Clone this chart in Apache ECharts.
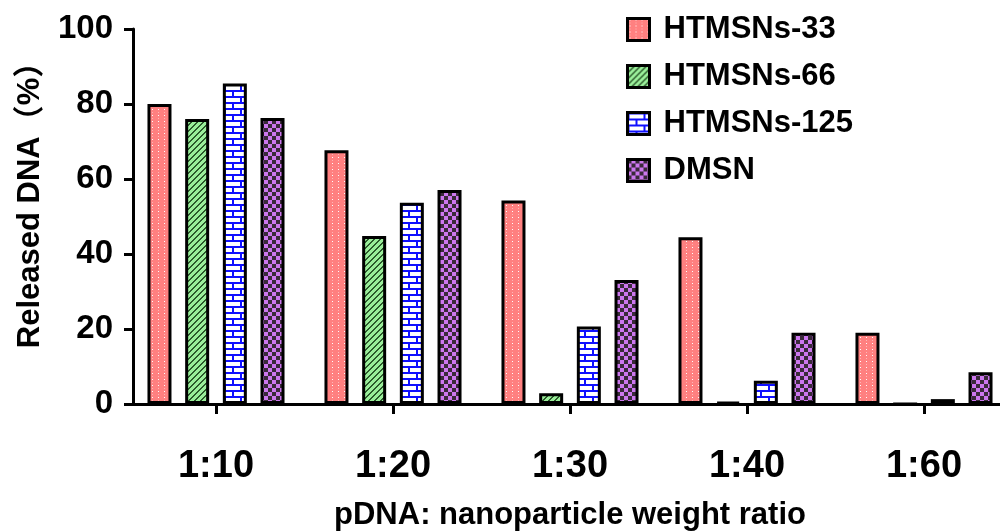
<!DOCTYPE html>
<html>
<head>
<meta charset="utf-8">
<script src="https://cdn.jsdelivr.net/npm/echarts@6/dist/echarts.min.js"></script>
<style>
html,body{margin:0;padding:0;background:#fff;}
#chart{width:1000px;height:532px;}
</style>
</head>
<body>
<div id="chart"></div>
<script>
// ---- data ----
const categories = ['1:10', '1:20', '1:30', '1:40', '1:60'];
const seriesNames = ['HTMSNs-33', 'HTMSNs-66', 'HTMSNs-125', 'DMSN'];
const htmsns33 = [80.0, 67.7, 54.3, 44.5, 19.0];
const htmsns66 = [76.0, 44.8, 2.9, 0.5, 0];
const htmsns125 = [85.5, 53.7, 20.7, 6.2, 1.3];
const dmsn = [76.3, 57.1, 33.1, 19.0, 8.5];
const yTicks = [0, 20, 40, 60, 80, 100];

// ---- patterns ----
function makePattern(w, h, draw) {
  const c = document.createElement('canvas');
  c.width = w; c.height = h;
  const ctx = c.getContext('2d');
  draw(ctx, w, h);
  return { image: c, repeat: 'repeat' };
}
const redPattern = makePattern(6, 6, (ctx, w, h) => {
  ctx.fillStyle = '#ff8080'; ctx.fillRect(0, 0, w, h);
  ctx.fillStyle = '#ffffff'; ctx.fillRect(2, 1, 1, 1);
  ctx.fillStyle = '#ffb4b4'; ctx.fillRect(2, 4, 1, 1);
});
const greenPattern = makePattern(6, 6, (ctx, w, h) => {
  ctx.fillStyle = '#9aee9a'; ctx.fillRect(0, 0, w, h);
  ctx.fillStyle = '#2b5a2b';
  for (let x = 0; x < w; x++) for (let y = 0; y < h; y++) {
    const m = (x + y) % 6;
    if (m === 0 || m === 1) ctx.fillRect(x, y, 1, 1);
  }
});
const bluePattern = makePattern(16, 12, (ctx, w, h) => {
  ctx.fillStyle = '#ffffff'; ctx.fillRect(0, 0, w, h);
  ctx.fillStyle = '#1010ff';
  ctx.fillRect(0, 0, w, 2);
  ctx.fillRect(0, 6, w, 2);
  ctx.fillRect(0, 0, 2, 6);
  ctx.fillRect(8, 6, 2, 6);
});
const purplePattern = makePattern(8, 8, (ctx, w, h) => {
  ctx.fillStyle = '#cc77ee'; ctx.fillRect(0, 0, w, h);
  ctx.fillStyle = '#3a2a3a';
  ctx.fillRect(0, 0, 4, 4);
  ctx.fillRect(4, 4, 4, 4);
});
const patterns = [redPattern, greenPattern, bluePattern, purplePattern];
const seriesData = [htmsns33, htmsns66, htmsns125, dmsn];

const FONT = '"Liberation Sans", Arial, "Noto Sans CJK SC", sans-serif';

const chart = echarts.init(document.getElementById('chart'), null, { renderer: 'canvas' });
chart.setOption({
  animation: false,
  backgroundColor: '#ffffff',
  grid: { left: 127.5, right: -12.5, top: 29, bottom: 128, containLabel: false, outerBoundsMode: 'none' },
  legend: {
    orient: 'vertical',
    left: 621,
    top: 9,
    itemWidth: 22,
    itemHeight: 22,
    itemGap: 16,
    icon: 'rect',
    data: seriesNames,
    textStyle: {
      fontFamily: FONT, fontWeight: 'bold', fontSize: 31, color: '#000',
      lineHeight: 29, padding: [0, 0, 0, 9]
    },
    itemStyle: { borderColor: '#000', borderWidth: 3 }
  },
  xAxis: {
    type: 'category',
    data: categories,
    boundaryGap: true,
    name: 'pDNA: nanoparticle weight ratio',
    nameLocation: 'middle',
    nameGap: 96,
    nameTextStyle: { fontFamily: FONT, fontWeight: 'bold', fontSize: 31, color: '#000' },
    axisLine: { show: true, lineStyle: { color: '#000', width: 3 } },
    axisTick: { show: true, alignWithLabel: true, length: 10, lineStyle: { color: '#000', width: 3 } },
    axisLabel: { fontFamily: FONT, fontWeight: 'bold', fontSize: 38, color: '#000', margin: 44 },
    splitLine: { show: false }
  },
  yAxis: {
    type: 'value',
    min: 0, max: 100, interval: 20,
    offset: -5.5,
    name: 'Released DNA（%）',
    nameLocation: 'middle',
    nameGap: 87,
    nameRotate: 90,
    nameTextStyle: { fontFamily: FONT, fontWeight: 'bold', fontSize: 31, color: '#000', padding: [0, 0, 0, 38] },
    axisLine: { show: true, lineStyle: { color: '#000', width: 3 } },
    axisTick: { show: true, length: 9, lineStyle: { color: '#000', width: 3 } },
    axisLabel: {
      fontFamily: FONT, fontWeight: 'bold', fontSize: 33, color: '#000', margin: 20,
      formatter: v => (yTicks.indexOf(v) >= 0 ? String(v) : '')
    },
    splitLine: { show: false }
  },
  series: seriesNames.map((name, i) => ({
    name: name,
    type: 'bar',
    data: seriesData[i],
    barWidth: 24,
    barGap: '57%',
    itemStyle: { color: patterns[i], borderColor: '#000', borderWidth: 3 },
    emphasis: { disabled: true }
  }))
});
</script>
</body>
</html>
